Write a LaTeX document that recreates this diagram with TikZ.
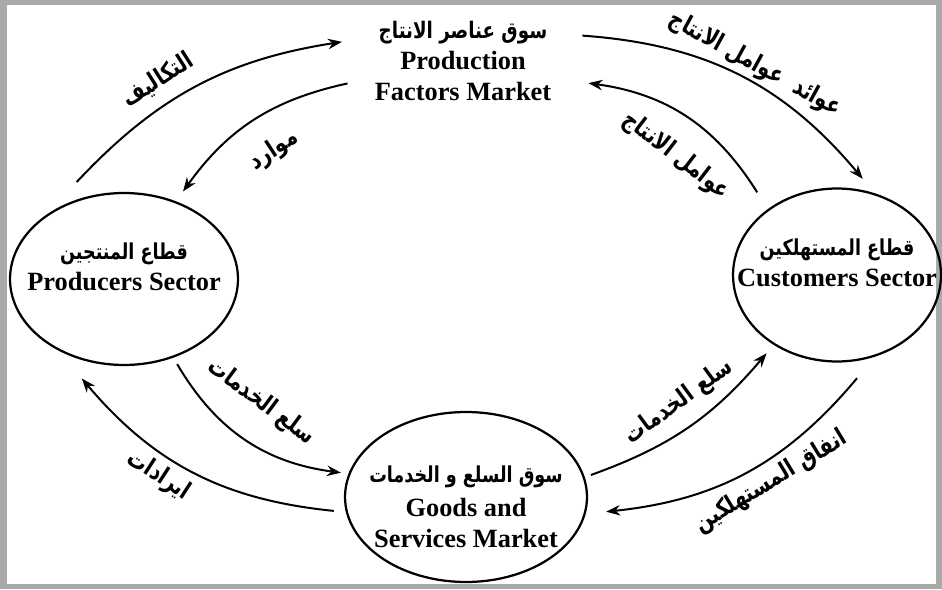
\documentclass[tikz,border=0pt]{standalone}
\usepackage{fontspec}
\setmainfont{Liberation Serif}
\newfontfamily\arabicfont[Script=Arabic,FakeStretch=0.8]{DejaVu Sans}
\TeXXeTstate=1
\usepackage{tikz}
\usetikzlibrary{shapes}
\usetikzlibrary{arrows}
\usetikzlibrary{arrows.meta}
\usetikzlibrary{positioning}
\usetikzlibrary{calc}
\definecolor{frm}{HTML}{A9A9A9}
\newcommand{\artxt}[1]{{\arabicfont\bfseries\beginR #1\endR}}

\begin{document}
\begin{tikzpicture}[
  x=0.02cm, y=0.02cm,
  flow/.style={
    ->,>={Stealth[length=2.8mm,width=2.1mm]},line width=0.4mm
  },
  sector/.style 2 args={
    ellipse,
    draw,
    line width=0.45mm,
    minimum width=#1,
    minimum height=#2,
    inner sep=0pt},
  txt/.style={
    align=center,
    font=\fontsize{15}{17.5}\selectfont\bfseries},
  lbl/.style={
    font=\fontsize{14}{16}\selectfont,
    inner sep=2pt},
]
  \useasboundingbox (0,0) rectangle (942,589);

  % Frame
  \fill[frm] (0,0) rectangle (942,589);
  \fill[white] (7,5) rectangle (936,584);

  % Sectors and markets
  \node[sector={4.56cm}{3.44cm}] (prod) at (124,310) {};
  \node[txt] (prod_txt) at (124,322)
    {{\fontsize{12.5}{15}\selectfont\artxt{قطاع المنتجين}}\\Producers Sector};

  \node[sector={4.16cm}{3.46cm}] (cust) at (837,314) {};
  \node[txt] (cust_txt) at (837,326)
    {{\fontsize{12.5}{15}\selectfont\artxt{قطاع المستهلكين}}\\Customers Sector};

  \node[sector={4.84cm}{3.40cm}] (gmkt) at (466,92) {};
  \node[txt] (gmkt_txt) at (466,82)
    {{\fontsize{12.5}{15}\selectfont\artxt{سوق السلع و الخدمات}}\\[2pt]Goods and\\Services Market};

  \node[txt, minimum width=4cm, minimum height=2cm, inner sep=0pt] (fmkt)
    at (463,528)
    {{\fontsize{13}{15}\selectfont\artxt{سوق عناصر الانتاج}}\\Production\\Factors Market};

  % Flows round the circuit
  \draw[flow] ($(prod.116)!-0.34cm!(prod.center)$) to[bend left=19]
      node[lbl, sloped, above=5pt, pos=0.4] {\artxt{التكاليف}}
      ($(fmkt.171)!-0.42cm!(fmkt.center)$);
  \draw[flow] ($(fmkt.191)!-0.31cm!(fmkt.center)$) to[bend right=21]
      node[lbl, sloped, below=11pt, pos=0.5] {\artxt{موارد}}
      ($(prod.56)!-0.24cm!(prod.center)$);

  \draw[flow] ($(fmkt.12)!-0.39cm!(fmkt.center)$) to[bend left=23]
      node[lbl, sloped, above=0pt, pos=0.53] {\artxt{عوائد\ \ عوامل الانتاج}}
      ($(cust.75)!-0.22cm!(cust.center)$);
  \draw[flow] ($(cust.134)!-0.40cm!(cust.center)$) to[bend right=25]
      node[lbl, sloped, below=12pt, pos=0.42] {\artxt{عوامل الانتاج}}
      ($(fmkt.350)!-0.51cm!(fmkt.center)$);

  \draw[flow] ($(prod.302)!-0.15cm!(prod.center)$) to[bend right=26]
      node[lbl, sloped, above=13pt, pos=0.45] {\artxt{سلع الخدمات}}
      ($(gmkt.169)!-0.15cm!(gmkt.center)$);
  \draw[flow] ($(gmkt.186)!-0.23cm!(gmkt.center)$) to[bend left=22]
      node[lbl, sloped, below=2pt, pos=0.6] {\artxt{ايرادات}}
      ($(prod.247)!-0.36cm!(prod.center)$);

  \draw[flow] ($(gmkt.10)!-0.13cm!(gmkt.center)$) to[bend right=15]
      node[lbl, sloped, above=5pt, pos=0.54] {\artxt{سلع الخدمات}}
      ($(cust.228)!-0.22cm!(cust.center)$);
  \draw[flow] ($(cust.281)!-0.34cm!(cust.center)$) to[bend left=22]
      node[lbl, sloped, below=2pt, pos=0.44] {\artxt{انفاق المستهلكين}}
      ($(gmkt.354)!-0.39cm!(gmkt.center)$);

\end{tikzpicture}
\end{document}
